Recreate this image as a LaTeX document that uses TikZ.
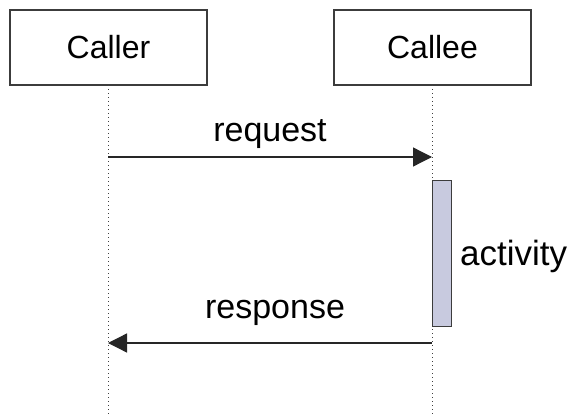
\documentclass[tikz,border=0pt]{standalone}
\usepackage{fontspec}
\setmainfont{Liberation Sans}
\usetikzlibrary{arrows.meta}

\definecolor{frame}{HTML}{3C3C3C}
\definecolor{actfill}{HTML}{C8CADF}

\tikzset{
  party/.style={draw=frame, line width=1.6pt, fill=white,
    minimum width=197pt, minimum height=75pt, inner sep=0pt,
    font=\fontsize{32}{38}\selectfont},
  lifeline/.style={draw=black!75, line width=1pt, dash pattern=on 1pt off 3pt},
  msg/.style={draw=black!85, line width=1.3pt,
    -{Triangle[length=19pt, width=19pt]}},
  lbl/.style={anchor=base, inner sep=0pt, font=\fontsize{34}{40}\selectfont},
  activitybar/.style={draw=frame, line width=1.4pt, fill=actfill,
    minimum width=19pt, minimum height=146pt, inner sep=0pt, anchor=north west}
}

\begin{document}
\begin{tikzpicture}[x=1pt, y=-1pt]
  \useasboundingbox (0,0) rectangle (570,417);

  % participants
  \node[party] (caller) at (108.5,47.5) {Caller};
  \node[party] (callee) at (432.5,47.5) {Callee};

  % lifeline ends at the bottom edge
  \coordinate (callerEnd) at (108,417);
  \coordinate (calleeEnd) at (432,417);
  \draw[lifeline] (108,85) -- (callerEnd);
  \draw[lifeline] (432,85) -- (calleeEnd);

  % activation bar on the callee lifeline
  \node[activitybar] (act) at (432,180) {};
  \node[anchor=base west, inner sep=0pt, font=\fontsize{35}{40}\selectfont]
    (actlabel) at (460,265) {activity};

  % request message
  \coordinate (reqFrom) at (108,157);
  \coordinate (reqTo) at (432,157);
  \draw[msg] (reqFrom) -- (reqTo);
  \node[lbl] (reqlabel) at (270,142) {request};

  % response message
  \coordinate (resFrom) at (432,343);
  \coordinate (resTo) at (108,343);
  \draw[msg] (resFrom) -- (resTo);
  \node[lbl] (reslabel) at (275,318) {response};
\end{tikzpicture}
\end{document}
